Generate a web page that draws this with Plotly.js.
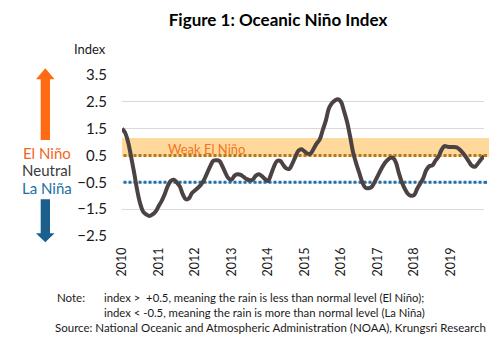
<!DOCTYPE html>
<html>
<head>
<meta charset="utf-8">
<script src="https://cdn.plot.ly/plotly-3.0.1.min.js"></script>
<style>html,body{margin:0;padding:0;background:#fff;}#chart{width:502px;height:351px;}</style>
</head>
<body>
<div id="chart"></div>
<script>
// ---- data (monthly Oceanic Niño Index) ----
var years = ['2010','2011','2012','2013','2014','2015','2016','2017','2018','2019'];
var oni2010 = [1.5, 1.35, 1.0, 0.45, -0.15, -0.8, -1.3, -1.6, -1.7, -1.75, -1.7, -1.6];
var oni2011 = [-1.4, -1.2, -0.95, -0.65, -0.45, -0.4, -0.5, -0.65, -0.95, -1.13, -1.1, -0.9];
var oni2012 = [-0.8, -0.7, -0.58, -0.4, -0.15, 0.1, 0.3, 0.32, 0.3, 0.1, -0.15, -0.35];
var oni2013 = [-0.4, -0.25, -0.2, -0.22, -0.3, -0.38, -0.42, -0.4, -0.25, -0.2, -0.27, -0.38];
var oni2014 = [-0.45, -0.2, 0.1, 0.3, 0.3, 0.15, 0.02, 0.0, 0.2, 0.45, 0.68, 0.73];
var oni2015 = [0.65, 0.57, 0.57, 0.75, 0.95, 1.1, 1.45, 1.8, 2.25, 2.45, 2.55, 2.6];
var oni2016 = [2.5, 2.15, 1.75, 1.2, 0.6, 0.2, -0.15, -0.5, -0.7, -0.72, -0.68, -0.5];
var oni2017 = [-0.28, -0.05, 0.15, 0.3, 0.4, 0.42, 0.25, -0.15, -0.5, -0.75, -0.93, -1.0];
var oni2018 = [-0.98, -0.75, -0.55, -0.35, -0.05, 0.1, 0.13, 0.3, 0.45, 0.7, 0.85, 0.83];
var oni2019 = [0.82, 0.82, 0.8, 0.72, 0.6, 0.45, 0.28, 0.12, 0.08, 0.2, 0.35, 0.48];
var weakElNino = [0.45, 1.15];   // shaded "Weak El Niño" band
var elNinoThreshold = 0.5;
var laNinaThreshold = -0.5;

var series = [oni2010, oni2011, oni2012, oni2013, oni2014, oni2015, oni2016, oni2017, oni2018, oni2019];
var yv = [];
series.forEach(function (s) { yv = yv.concat(s); });
var xv = yv.map(function (_, i) { return i; });
var tickvals = years.map(function (_, k) { return k * 12; });
var lastIdx = xv.length - 1;

// ---- pixel helpers for decorations outside the plot ----
var W = 502, H = 351, ML = 122, MR = 18, MT = 75, MB = 115;
var PW = W - ML - MR, PH = H - MT - MB;
function px(X) { return (X - ML) / PW; }
function py(Y) { return (H - MB - Y) / PH; }
function path(pts) {
  return 'M' + pts.map(function (p) { return px(p[0]) + ',' + py(p[1]); }).join(' L') + ' Z';
}

var FONT = 'Lato, "Open Sans", "DejaVu Sans", sans-serif';
var ORANGE_DOT = '#BF770C', BLUE_DOT = '#1F72AC';

var elTrace = {
  x: [0.5, lastIdx], y: [elNinoThreshold, elNinoThreshold], type: 'scatter', mode: 'lines',
  line: { color: ORANGE_DOT, width: 3, dash: '3px,2px' }, hoverinfo: 'skip', showlegend: false
};
var laTrace = {
  x: [0.5, lastIdx], y: [laNinaThreshold, laNinaThreshold], type: 'scatter', mode: 'lines',
  line: { color: BLUE_DOT, width: 3, dash: '3px,2px' }, hoverinfo: 'skip', showlegend: false
};
var trace = {
  x: xv, y: yv, type: 'scatter', mode: 'lines',
  line: { color: '#4b4241', width: 4, shape: 'spline', smoothing: 1 },
  hoverinfo: 'skip', showlegend: false
};

var shapes = [
  { type: 'rect', xref: 'paper', yref: 'y', x0: 0, x1: px(489), y0: weakElNino[0], y1: weakElNino[1],
    fillcolor: '#FFD99C', line: { width: 0 }, layer: 'below' },
  // short extensions of the dotted lines past the right edge of the plot
  { type: 'line', xref: 'paper', yref: 'y', x0: 1, x1: px(489), y0: elNinoThreshold, y1: elNinoThreshold,
    line: { color: ORANGE_DOT, width: 3, dash: '3px,2px' } },
  { type: 'line', xref: 'paper', yref: 'y', x0: 1, x1: px(489), y0: laNinaThreshold, y1: laNinaThreshold,
    line: { color: BLUE_DOT, width: 3, dash: '3px,2px' } },
  // up arrow (El Niño)
  { type: 'path', xref: 'paper', yref: 'paper', fillcolor: '#FF6A12', line: { width: 0 },
    path: path([[40.7, 140], [40.7, 79.3], [36, 79.3], [45.3, 68.3], [54.6, 79.3], [50, 79.3], [50, 140]]) },
  // down arrow (La Niña)
  { type: 'path', xref: 'paper', yref: 'paper', fillcolor: '#1B5F8D', line: { width: 0 },
    path: path([[40.7, 199.3], [40.7, 233.3], [36, 233.3], [45.3, 242.3], [54.6, 233.3], [50, 233.3], [50, 199.3]]) }
];

function ann(text, X, Y, size, color, anchor, bold) {
  return { text: bold ? '<b>' + text + '</b>' : text, xref: 'paper', yref: 'paper', x: px(X), y: py(Y),
    xanchor: anchor || 'center', yanchor: 'middle', showarrow: false,
    font: { family: FONT, size: size, color: color } };
}

var annotations = [
  ann('Index', 108, 49, 13, '#1a1a1a', 'right'),
  ann('Weak El Niño', 206, 148.5, 13, '#F47320', 'center'),
  ann('El Niño', 46.5, 152.5, 15, '#F26522', 'center'),
  ann('Neutral', 46.5, 169.5, 15, '#3a3a3a', 'center'),
  ann('La Niña', 46.5, 187.5, 15, '#1C6EA4', 'center'),
  ann('Note:', 55, 297, 11.5, '#1a1a1a', 'left'),
  ann('index &gt;  +0.5, meaning the rain is less than normal level (El Niño);', 101.5, 297, 11.3, '#1a1a1a', 'left'),
  ann('index &lt; -0.5, meaning the rain is more than normal level (La Niña)', 101.5, 312, 11.3, '#1a1a1a', 'left'),
  ann('Source: National Oceanic and Atmospheric Administration (NOAA), Krungsri Research', 53, 327, 11.5, '#1a1a1a', 'left')
];

var layout = {
  width: W, height: H,
  margin: { l: ML, r: MR, t: MT, b: MB, pad: 0 },
  paper_bgcolor: '#ffffff', plot_bgcolor: 'rgba(0,0,0,0)',
  font: { family: FONT, color: '#1a1a1a' },
  title: { text: '<b>Figure 1: Oceanic Niño Index</b>', x: 278 / W, xanchor: 'center', xref: 'container',
    y: 1 - 20 / H, yanchor: 'middle', yref: 'container', font: { family: FONT, size: 17, color: '#000' } },
  xaxis: {
    range: [0, lastIdx], tickmode: 'array', tickvals: tickvals, ticktext: years,
    tickangle: -90, tickfont: { family: FONT, size: 12.5, color: '#1a1a1a' },
    showgrid: false, zeroline: false, showline: false, ticks: '', ticklabelstandoff: 8, fixedrange: true
  },
  yaxis: {
    range: [-2.5, 3.5], tick0: -2.5, dtick: 1, tickformat: '.1f',
    tickfont: { family: FONT, size: 15, color: '#1a1a1a' },
    gridcolor: '#D9D9D9', gridwidth: 1, zeroline: false, showline: false, ticks: '',
    ticklabelstandoff: 14, fixedrange: true
  },
  shapes: shapes,
  annotations: annotations,
  showlegend: false
};

Plotly.newPlot('chart', [elTrace, laTrace, trace], layout, { displayModeBar: false, staticPlot: true });
</script>
</body>
</html>
